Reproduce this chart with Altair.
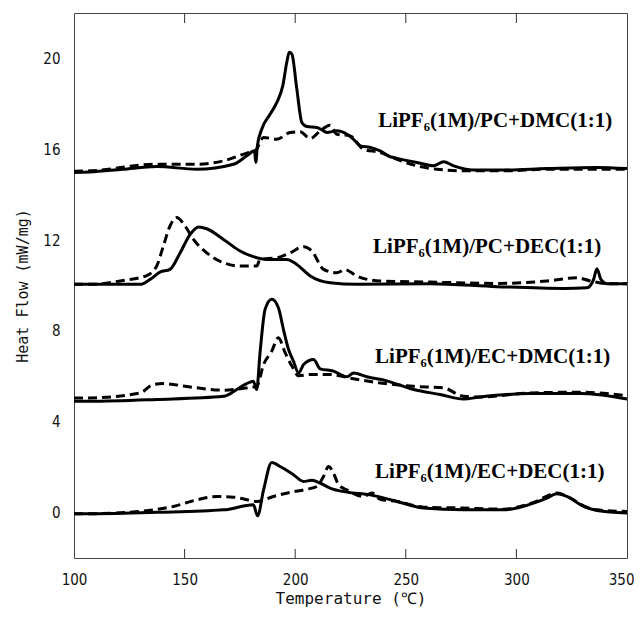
import altair as alt
import pandas as pd

# ---- data ----
pcdmc_solid_T = [100, 107.2, 122, 137.4, 155.5, 172.1, 178.1, 181.6, 182.2, 182.9, 184.9, 188.7, 191.7, 194.4, 196.2, 197.3, 198.5, 200.7, 203.0, 205.3, 209.8, 212.8, 214.3, 218.8, 223.4, 226.4, 229.4, 233.9, 238.4, 242.2, 246.0, 255.0, 262.5, 267.1, 271.6, 280.6, 294.2, 313.8, 336.4, 350]
pcdmc_solid_Y = [14.98, 15.0, 15.12, 15.24, 15.12, 15.34, 15.71, 15.93, 15.42, 16.15, 16.89, 17.55, 18.06, 18.8, 19.83, 20.27, 20.19, 18.68, 17.18, 17.0, 16.96, 16.81, 16.74, 16.81, 16.66, 16.44, 16.15, 16.08, 15.93, 15.7, 15.6, 15.42, 15.27, 15.45, 15.27, 15.09, 15.09, 15.15, 15.2, 15.15]
pcdmc_dash_T = [100, 107.2, 137.4, 155.5, 167.6, 178.1, 181.9, 185.7, 191.7, 197.7, 202.2, 206.8, 211.3, 215.8, 218.8, 224.9, 230.9, 238.4, 246.0, 255.0, 264.0, 276.1, 294.2, 313.8, 350]
pcdmc_dash_Y = [15.03, 15.05, 15.34, 15.34, 15.49, 15.83, 15.93, 16.52, 16.44, 16.74, 16.77, 16.47, 16.81, 17.06, 16.66, 16.59, 16.0, 15.86, 15.56, 15.27, 15.12, 15.05, 15.05, 15.12, 15.12]

pcdec_solid_T = [100, 107.2, 129.9, 134.4, 138.9, 143.4, 148.0, 152.5, 156.3, 160.0, 167.6, 175.1, 181.1, 187.2, 196.2, 200.7, 206.8, 215.8, 227.9, 261.0, 291.2, 321.3, 331.9, 334.9, 336.4, 338.2, 341.0, 350]
pcdec_solid_Y = [10.05, 10.05, 10.05, 10.27, 10.59, 10.71, 11.44, 12.25, 12.58, 12.5, 12.03, 11.52, 11.27, 11.15, 11.15, 10.93, 10.42, 10.12, 10.05, 10.08, 9.95, 9.87, 9.9, 10.27, 10.74, 10.27, 10.08, 10.08]
pcdec_dash_T = [100, 107.2, 122.3, 132.9, 137.4, 140.4, 143.4, 146.4, 150.2, 154.0, 160.0, 167.6, 175.1, 182.6, 184.1, 191.7, 197.7, 203.8, 207.5, 212.8, 218.8, 222.5, 227.8, 238.4, 261.0, 291.2, 313.8, 327.4, 333.4, 341.0, 350]
pcdec_dash_Y = [10.05, 10.05, 10.22, 10.44, 10.86, 11.74, 12.62, 12.99, 12.62, 12.03, 11.44, 11.0, 10.86, 10.86, 11.15, 11.22, 11.44, 11.71, 11.52, 10.71, 10.56, 10.7, 10.42, 10.2, 10.15, 10.09, 10.2, 10.34, 10.2, 10.08, 10.08]

ecdmc_solid_T = [100, 107.2, 137.4, 167.6, 173.6, 178.1, 181.1, 182.6, 184.1, 186.4, 189.4, 192.4, 194.7, 197.0, 199.2, 201.5, 203.8, 208.3, 211.3, 217.3, 223.4, 226.4, 232.4, 241.4, 253.5, 265.5, 276.1, 283.6, 306.3, 328.9, 350]
ecdmc_solid_Y = [4.9, 4.9, 4.98, 5.12, 5.42, 5.68, 5.78, 5.42, 7.03, 8.95, 9.39, 9.02, 8.06, 7.18, 6.67, 6.15, 6.52, 6.74, 6.33, 6.23, 5.98, 6.15, 5.98, 5.8, 5.42, 5.2, 5.0, 5.09, 5.24, 5.24, 5.0]
ecdmc_dash_T = [100, 107.2, 129.9, 135.9, 140.4, 152.5, 167.6, 178.1, 182.6, 185.7, 189.4, 192.4, 195.5, 198.5, 201.5, 206.8, 215.8, 224.9, 238.4, 253.5, 267.1, 276.1, 283.6, 306.3, 328.9, 350]
ecdmc_dash_Y = [5.05, 5.05, 5.27, 5.64, 5.68, 5.53, 5.39, 5.49, 5.56, 6.52, 7.11, 7.7, 7.03, 6.45, 6.03, 6.08, 6.08, 5.92, 5.71, 5.56, 5.49, 5.12, 5.09, 5.27, 5.3, 5.15]

ecdec_solid_T = [100, 107.2, 137.4, 167.6, 181.1, 183.0, 185.7, 189.4, 193.2, 199.2, 203.8, 207.5, 211.3, 215.8, 223.4, 233.9, 246.0, 258.0, 276.1, 294.2, 300.2, 307.8, 313.8, 318.3, 322.8, 330.4, 336.4, 350]
ecdec_solid_Y = [-0.05, -0.05, 0.01, 0.12, 0.34, -0.14, 1.0, 2.21, 2.03, 1.67, 1.37, 1.42, 1.3, 1.08, 0.9, 0.78, 0.49, 0.2, 0.12, 0.12, 0.2, 0.42, 0.64, 0.83, 0.71, 0.27, 0.09, -0.02]
ecdec_dash_T = [100, 107.2, 129.9, 144.9, 155.5, 164.5, 172.1, 179.6, 182.6, 190.2, 197.7, 205.3, 209.8, 212.8, 215.1, 217.3, 219.6, 223.4, 230.9, 234.7, 238.4, 246.0, 258.0, 276.1, 294.2, 307.8, 318.3, 324.4, 330.4, 336.4, 350]
ecdec_dash_Y = [-0.05, -0.05, 0.05, 0.27, 0.56, 0.71, 0.68, 0.54, 0.49, 0.71, 0.89, 1.03, 1.15, 1.59, 2.03, 1.74, 1.23, 1.0, 0.71, 0.86, 0.59, 0.49, 0.24, 0.2, 0.15, 0.45, 0.86, 0.64, 0.3, 0.12, 0.05]

label_texts = ["LiPF₆(1M)/PC+DMC(1:1)", "LiPF₆(1M)/PC+DEC(1:1)", "LiPF₆(1M)/EC+DMC(1:1)", "LiPF₆(1M)/EC+DEC(1:1)"]
label_T = [237.5, 235.2, 236.1, 236.1]
label_Y = [16.96, 11.45, 6.59, 1.52]

x_ticks = [100, 150, 200, 250, 300, 350]
inner_ticks = [150, 200, 250, 300]
y_ticks = [0, 4, 8, 12, 16, 20]

# ---- build tables ----
series = [
    ("pcdmc_s", "solid", pcdmc_solid_T, pcdmc_solid_Y),
    ("pcdmc_d", "dash", pcdmc_dash_T, pcdmc_dash_Y),
    ("pcdec_s", "solid", pcdec_solid_T, pcdec_solid_Y),
    ("pcdec_d", "dash", pcdec_dash_T, pcdec_dash_Y),
    ("ecdmc_s", "solid", ecdmc_solid_T, ecdmc_solid_Y),
    ("ecdmc_d", "dash", ecdmc_dash_T, ecdmc_dash_Y),
    ("ecdec_s", "solid", ecdec_solid_T, ecdec_solid_Y),
    ("ecdec_d", "dash", ecdec_dash_T, ecdec_dash_Y),
]
rows = []
for name, style, ts, ys in series:
    for t, y in zip(ts, ys):
        rows.append({"series": name, "style": style, "T": t, "Y": y})
df = pd.DataFrame(rows)
labels_df = pd.DataFrame({"T": label_T, "Y": label_Y, "text": label_texts})
ticks_df = pd.DataFrame({"T": inner_ticks})

xscale = alt.Scale(domain=[100, 350], nice=False, zero=False)
yscale = alt.Scale(domain=[-2, 22], nice=False, zero=False)

xaxis = alt.Axis(values=x_ticks, tickSize=0, domain=False, grid=False, labelFlush=False,
                 labelAlign={"condition": {"test": "datum.value == 350", "value": "right"}, "value": "center"},
                 labelOffset={"condition": {"test": "datum.value == 350", "value": 7}, "value": 0},
                 labelFont="DejaVu Sans Condensed", labelFontSize=15, labelColor="#111",
                 labelPadding=14, title="Temperature (℃)", titleFont="DejaVu Sans Mono",
                 titleFontSize=16, titleFontWeight="normal", titleColor="#111",
                 titleY=40, titleBaseline="middle")
yaxis = alt.Axis(values=y_ticks, tickSize=0, domain=False, grid=False, labelFlush=False,
                 labelFont="DejaVu Sans Condensed", labelFontSize=15, labelColor="#111",
                 labelPadding=14, title="Heat Flow (mW/mg)", titleFont="DejaVu Sans Mono",
                 titleFontSize=15, titleFontWeight="normal", titleColor="#111",
                 titleX=-52, titleBaseline="middle")

base = alt.Chart(df)
solid = base.transform_filter(alt.datum.style == "solid").mark_line(
    color="black", strokeWidth=3, interpolate="monotone"
).encode(
    x=alt.X("T:Q", scale=xscale, axis=xaxis),
    y=alt.Y("Y:Q", scale=yscale, axis=yaxis),
    detail="series:N",
)
dashed = base.transform_filter(alt.datum.style == "dash").mark_line(
    color="black", strokeWidth=3, strokeDash=[9, 5], interpolate="monotone"
).encode(
    x=alt.X("T:Q", scale=xscale),
    y=alt.Y("Y:Q", scale=yscale),
    detail="series:N",
)

bottom_ticks = alt.Chart(ticks_df).mark_rule(color="#333", strokeWidth=1).encode(
    x=alt.X("T:Q", scale=xscale), y=alt.value(545), y2=alt.value(536)
)
top_ticks = alt.Chart(ticks_df).mark_rule(color="#333", strokeWidth=1).encode(
    x=alt.X("T:Q", scale=xscale), y=alt.value(0), y2=alt.value(10)
)

texts = alt.Chart(labels_df).mark_text(
    align="left", baseline="alphabetic", font="Liberation Serif",
    fontWeight="bold", fontSize=21, color="black"
).encode(
    x=alt.X("T:Q", scale=xscale),
    y=alt.Y("Y:Q", scale=yscale),
    text="text:N",
)

chart = alt.layer(solid, dashed, bottom_ticks, top_ticks, texts).properties(
    width=553, height=545,
    autosize=alt.AutoSizeParams(type="none"),
    padding={"left": 66, "top": 5, "right": 7, "bottom": 51},
    background="white",
).configure_view(stroke="#444", strokeWidth=1)

chart.save("out.html", embed_options={"renderer": "svg", "actions": False})
